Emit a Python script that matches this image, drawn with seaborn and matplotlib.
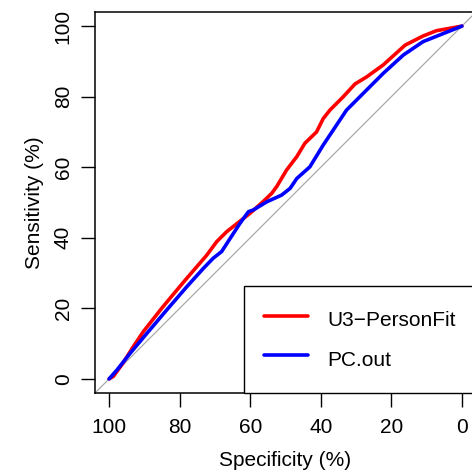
import matplotlib
matplotlib.use("Agg")
import matplotlib.pyplot as plt
import seaborn as sns

# ROC curve points (specificity %, sensitivity %)
u3_spec = [100, 98.8, 96.4, 93.1, 90.3, 85.1, 82.7, 78, 72.3, 69.5, 66.7, 61.9, 60.1,
           56.3, 53.9, 52.5, 49.7, 46.8, 44.5, 41.2, 39.3, 37.4, 33.6, 30.3, 27, 22.3,
           16.1, 11, 7.2, 0]
u3_sens = [0, 0.7, 4, 9.2, 13.4, 20, 22.9, 28.5, 35.1, 38.9, 41.7, 45.5, 46.9,
           50.3, 52.6, 54.5, 59.2, 63, 66.8, 70, 73.8, 76.2, 80, 83.6, 85.6, 89,
           94.6, 97.2, 98.7, 100]

pc_spec = [100, 97.8, 94, 89.3, 83.7, 78, 73.3, 70.5, 68.1, 65.7, 62.9, 60.5, 59.1,
           55.3, 51.1, 48.7, 46.8, 43.1, 39.3, 35.5, 32.7, 28, 22.3, 16.6, 11, 0]
pc_sens = [0, 2.5, 7.3, 12.9, 19.5, 26.1, 31.3, 34.2, 36.1, 39.8, 44.1, 47.4, 47.9,
           50.2, 52.1, 54, 56.8, 60.1, 66.3, 72, 76.2, 80.9, 86.6, 91.8, 95.6, 100]

labels = ["U3\u2212PersonFit", "PC.out"]
colors = ["#ff0000", "#0000ff"]
ticks = [0, 20, 40, 60, 80, 100]

sns.set_style("ticks")
plt.rcParams["font.family"] = ["Liberation Sans", "DejaVu Sans"]
plt.rcParams["text.color"] = "black"
plt.rcParams["axes.labelcolor"] = "black"
plt.rcParams["xtick.color"] = "black"
plt.rcParams["ytick.color"] = "black"

fig = plt.figure(figsize=(4.72, 4.73), dpi=100)
ax = fig.add_axes([95 / 472, 80 / 473, 381 / 472, 381 / 473])

# chance diagonal across the whole plot region
ax.axline((100, 0), (0, 100), color="#a9a9a9", lw=0.9, zorder=1)

sns.lineplot(x=u3_spec, y=u3_sens, sort=False, estimator=None, color=colors[0],
             lw=2.6, ax=ax, label=labels[0])
sns.lineplot(x=pc_spec, y=pc_sens, sort=False, estimator=None, color=colors[1],
             lw=2.6, ax=ax, label=labels[1])

ax.set_xlim(104, -4)
ax.set_ylim(-4, 104)
ax.set_xticks(ticks)
ax.set_yticks(ticks)
ax.tick_params(axis="both", direction="out", length=10, width=1, labelsize=15,
               color="black", labelcolor="black")
ax.tick_params(axis="x", pad=8)
ax.tick_params(axis="y", pad=6)
plt.setp(ax.get_yticklabels(), rotation=90, va="center")
for s in ax.spines.values():
    s.set_visible(True)
    s.set_color("black")
    s.set_linewidth(1.1)

ax.set_xlabel("Specificity (%)", fontsize=15, labelpad=10)
ax.set_ylabel("Sensitivity (%)", fontsize=15, labelpad=7)

leg = ax.legend(loc="lower right", borderaxespad=0, fontsize=15, fancybox=False,
                frameon=True, edgecolor="black", handlelength=2.1, handletextpad=0.95,
                borderpad=0.95, labelspacing=0.55, handleheight=1.7)
leg.get_frame().set_linewidth(1.0)
leg.get_frame().set_alpha(1)

fig.savefig("out.png", dpi=100)
